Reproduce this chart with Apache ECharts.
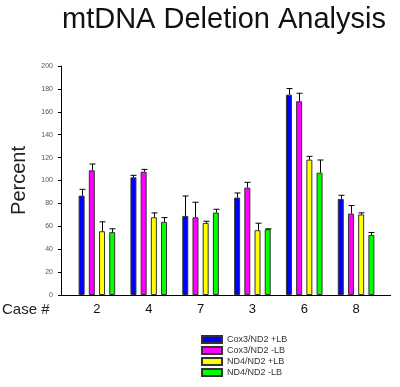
<!DOCTYPE html>
<html>
<head>
<meta charset="utf-8">
<script src="https://cdn.jsdelivr.net/npm/echarts@6/dist/echarts.min.js"></script>
<style>
  html, body { margin: 0; padding: 0; background: #fff; }
  #chart { width: 400px; height: 387px; }
</style>
</head>
<body>
<div id="chart"></div>
<script>
  // data
  var cases = ['2', '4', '7', '3', '6', '8']
  var seriesNames = ['Cox3/ND2 +LB', 'Cox3/ND2 -LB', 'ND4/ND2 +LB', 'ND4/ND2 -LB']
  var cox3Plus = [86.8, 102.8, 69.1, 85.1, 175.0, 83.9]
  var cox3PlusErr = [5.5, 1.7, 17.4, 4.0, 5.3, 3.2]
  var cox3Minus = [108.9, 107.7, 67.9, 93.8, 169.2, 71.1]
  var cox3MinusErr = [5.5, 2.0, 13.1, 4.6, 7.0, 7.0]
  var nd4Plus = [55.7, 67.9, 63.0, 56.6, 118.2, 70.3]
  var nd4PlusErr = [8.2, 3.8, 1.4, 6.1, 2.9, 1.4]
  var nd4Minus = [54.9, 63.9, 72.0, 57.5, 106.8, 52.5]
  var nd4MinusErr = [2.9, 3.7, 2.9, 0.3, 11.1, 2.1]
  var yTicks = [0, 20, 40, 60, 80, 100, 120, 140, 160, 180, 200]

  var colors = ['#0000ff', '#ff00ff', '#ffff00', '#00ff00']
  var values = [cox3Plus, cox3Minus, nd4Plus, nd4Minus]
  var errors = [cox3PlusErr, cox3MinusErr, nd4PlusErr, nd4MinusErr]

  var barW = 6
  var barGap = 0.7
  var pitch = barW * (1 + barGap)

  // [category, series, value, top of error bar]
  var errData = []
  values.forEach(function (vals, s) {
    vals.forEach(function (v, i) {
      errData.push([i, s, v, v + errors[s][i]])
    })
  })

  var chart = echarts.init(document.getElementById('chart'))

  var series = values.map(function (vals, s) {
    return {
      name: seriesNames[s],
      type: 'bar',
      data: vals,
      barWidth: barW,
      barGap: (barGap * 100) + '%',
      itemStyle: {
        color: colors[s],
        borderColor: '#333',
        borderWidth: 1
      }
    }
  })

  series.push({
    type: 'custom',
    name: 'err',
    z: 5,
    data: errData,
    renderItem: function (params, api) {
      var c = api.value(0)
      var s = api.value(1)
      var off = (s - 1.5) * pitch
      var lo = api.coord([c, api.value(2)])
      var hi = api.coord([c, api.value(3)])
      var x = Math.round(lo[0] + off) + 0.5
      var style = { stroke: '#000', lineWidth: 1 }
      return {
        type: 'group',
        children: [
          { type: 'line', shape: { x1: x, y1: lo[1], x2: x, y2: hi[1] }, style: style },
          { type: 'line', shape: { x1: x - 3, y1: hi[1], x2: x + 3, y2: hi[1] }, style: style }
        ]
      }
    }
  })

  chart.setOption({
    animation: false,
    textStyle: { fontFamily: 'Liberation Sans, Arial, sans-serif' },
    title: {
      text: 'mtDNA Deletion Analysis',
      left: 57,
      top: 0,
      textStyle: { fontSize: 29, fontWeight: 'normal', color: '#111' }
    },
    legend: {
      data: seriesNames,
      orient: 'vertical',
      left: 201,
      top: 335,
      padding: 0,
      itemWidth: 20,
      itemHeight: 7,
      itemGap: 2,
      icon: 'rect',
      textStyle: { fontSize: 9, color: '#333' }
    },
    grid: { left: 71, right: 18, top: 66, bottom: 92 },
    xAxis: {
      type: 'category',
      data: cases,
      axisLine: { show: false },
      axisTick: { show: false },
      axisLabel: { fontSize: 13, color: '#111', margin: 8 }
    },
    yAxis: {
      type: 'value',
      min: yTicks[0],
      max: yTicks[yTicks.length - 1],
      interval: 20,
      offset: 10,
      name: 'Percent',
      nameLocation: 'middle',
      nameGap: 32,
      nameTextStyle: { fontSize: 20, color: '#222' },
      axisLine: { show: true, lineStyle: { color: '#000', width: 1 } },
      axisTick: { show: true, length: 3, lineStyle: { color: '#000' } },
      axisLabel: { fontSize: 7, color: '#555', margin: 8 },
      splitLine: { show: false }
    },
    graphic: [
      // baseline runs past both ends of the category band
      { type: 'line', shape: { x1: 58, y1: 295.5, x2: 391, y2: 295.5 }, style: { stroke: '#000', lineWidth: 1 } },
      { type: 'text', left: 2, top: 302, style: { text: 'Case #', fontSize: 15, fill: '#222', fontFamily: 'Liberation Sans, Arial, sans-serif' } }
    ],
    series: series
  })
</script>
</body>
</html>
